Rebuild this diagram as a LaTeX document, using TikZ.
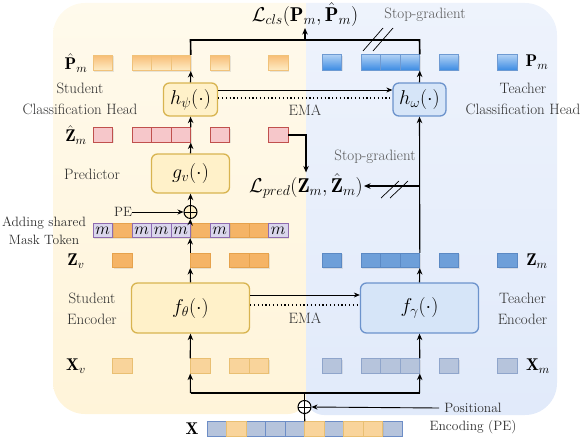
\RequirePackage{fix-cm}
\documentclass[tikz,border=0pt]{standalone}
\usepackage{amsmath}
\usepackage{fontspec}
\usetikzlibrary{arrows.meta,shadows,calc}
\definecolor{ybgT}{HTML}{FFFAEC}
\definecolor{ybgB}{HTML}{FFF4D9}
\definecolor{bbgT}{HTML}{EEF3FC}
\definecolor{bbgB}{HTML}{E1EAFA}
\definecolor{cXv}{HTML}{F9D49B}
\definecolor{cXvB}{HTML}{E9BF72}
\definecolor{cZv}{HTML}{F5B466}
\definecolor{cZvB}{HTML}{E6A24C}
\definecolor{cMk}{HTML}{DAD6EC}
\definecolor{cMkB}{HTML}{8E6BB0}
\definecolor{cZh}{HTML}{F6C7CA}
\definecolor{cZhB}{HTML}{C0504D}
\definecolor{cPhT}{HTML}{F8BE76}
\definecolor{cPhB}{HTML}{FEEDC8}
\definecolor{cPhBd}{HTML}{F0C27A}
\definecolor{cPmT}{HTML}{AFD0F4}
\definecolor{cPmB}{HTML}{3B8BE3}
\definecolor{cPmBd}{HTML}{6E9AD2}
\definecolor{cZm}{HTML}{6E9FD9}
\definecolor{cZmB}{HTML}{5B89C4}
\definecolor{cXm}{HTML}{B6C4DC}
\definecolor{cXmB}{HTML}{8FA5CB}
\definecolor{cXB}{HTML}{6D8DC6}
\definecolor{cSF}{HTML}{FFF1C9}
\definecolor{cSB}{HTML}{D8B450}
\definecolor{cTF}{HTML}{D6E5F8}
\definecolor{cTB}{HTML}{6C93CC}
\definecolor{cTxt}{HTML}{2E2E2E}
\definecolor{cGr}{HTML}{555555}
\tikzset{
  cellbase/.style={draw, minimum width=19.5pt, minimum height=14.5pt, inner sep=0pt, line width=0.6pt,
    drop shadow={shadow xshift=1pt, shadow yshift=-1pt, opacity=0.18}},
  xvcell/.style={cellbase, fill=cXv, draw=cXvB},
  zvcell/.style={cellbase, fill=cZv, draw=cZvB},
  mkcell/.style={cellbase, fill=cMk, draw=cMkB, font=\fontsize{17}{20}\selectfont},
  zhcell/.style={cellbase, fill=cZh, draw=cZhB},
  phcell/.style={cellbase, top color=cPhT, bottom color=cPhB, draw=cPhBd, minimum height=15.5pt},
  pmcell/.style={cellbase, top color=cPmT, bottom color=cPmB, draw=cPmBd, minimum height=15.5pt},
  zmcell/.style={cellbase, fill=cZm, draw=cZmB},
  xmcell/.style={cellbase, fill=cXm, draw=cXmB},
  xbcell/.style={cellbase, fill=cXm, draw=cXB},
  xocell/.style={cellbase, fill=cXv, draw=cXvB},
  sbox/.style={draw=cSB, fill=cSF, rounded corners=6pt, line width=1.3pt, inner sep=0pt, font=\fontsize{20}{24}\selectfont},
  tbox/.style={draw=cTB, fill=cTF, rounded corners=6pt, line width=1.3pt, inner sep=0pt, font=\fontsize{20}{24}\selectfont},
  lbl/.style={font=\fontsize{15}{21}\selectfont, text=cTxt, align=center, inner sep=0pt},
  slbl/.style={font=\fontsize{13.5}{18}\selectfont, text=cTxt, align=center, inner sep=0pt},
  rowlbl/.style={font=\fontsize{17}{20}\selectfont, text=black, inner sep=0pt},
  lossl/.style={font=\fontsize{20}{24}\selectfont, text=black, inner sep=1pt},
  ln/.style={line width=1.1pt},
  thk/.style={line width=1.6pt},
  arr/.style={line width=1.1pt, -{Stealth[length=6.5pt,width=5.5pt]}},
  tarr/.style={line width=0.9pt, -{Stealth[length=6pt,width=5pt]}},
  emadot/.style={line width=1.2pt, dash pattern=on 1.2pt off 2.6pt},
  hatch/.style={line width=0.7pt},
  oplus/.style={circle, draw, line width=1pt, minimum size=13pt, inner sep=0pt,
    path picture={\draw[line width=1pt] (path picture bounding box.north) -- (path picture bounding box.south)
      (path picture bounding box.west) -- (path picture bounding box.east);}}
}
\begin{document}
\begin{tikzpicture}[x=1pt,y=-1pt]
\useasboundingbox (0,0) rectangle (588,444);
% backgrounds (y axis points down: angle 90 = down, 270 = up)
\shade[top color=ybgT, bottom color=ybgB] (306,3) -- (85,3) arc[start angle=270,end angle=180,radius=32] -- (53,382)
  arc[start angle=180,end angle=90,radius=32] -- (288,414) arc[start angle=90,end angle=0,radius=18] -- cycle;
\shade[top color=bbgT, bottom color=bbgB] (306,3) -- (525,3) arc[start angle=-90,end angle=0,radius=32] -- (557,383)
  arc[start angle=0,end angle=90,radius=32] -- (324,415) arc[start angle=90,end angle=180,radius=18] -- cycle;

% ---------- student cells ----------
\foreach \i in {1,5,7,8} {
  \node[xvcell] (xv\i) at (102.75+19.5*\i,366) {};
  \node[zvcell] (zv\i) at (102.75+19.5*\i,260.5) {};
  \node[zvcell] (mk\i) at (102.75+19.5*\i,230.5) {};
}
\foreach \i in {0,2,3,4,6,9} {
  \node[mkcell] (mk\i) at (102.75+19.5*\i,230.5) {$m$};
  \node[zhcell] (zh\i) at (102.75+19.5*\i,135) {};
  \node[phcell] (ph\i) at (102.75+19.5*\i,63) {};
}
% ---------- teacher cells ----------
\foreach \i in {0,2,3,4,6,9} {
  \node[xmcell] (xm\i) at (331.75+19.5*\i,366) {};
  \node[zmcell] (zm\i) at (331.75+19.5*\i,260.5) {};
  \node[pmcell] (pm\i) at (331.75+19.5*\i,62.5) {};
}
% ---------- input X ----------
\foreach \i in {0,2,3,4,6,9} {\node[xbcell] (x\i) at (216.75+19.5*\i,429) {};}
\foreach \i in {1,5,7,8} {\node[xocell] (x\i) at (216.75+19.5*\i,429) {};}

% ---------- row labels ----------
\node[rowlbl] (lph) at (76,63) {$\hat{\mathbf{P}}_m$};
\node[rowlbl] (lzh) at (76,135) {$\hat{\mathbf{Z}}_m$};
\node[rowlbl] (lzv) at (76,261) {$\mathbf{Z}_v$};
\node[rowlbl] (lxv) at (76,366) {$\mathbf{X}_v$};
\node[rowlbl] (lx) at (192,429) {$\mathbf{X}$};
\node[rowlbl] (lpm) at (537,62) {$\mathbf{P}_m$};
\node[rowlbl] (lzm) at (537,261) {$\mathbf{Z}_m$};
\node[rowlbl] (lxm) at (538,366) {$\mathbf{X}_m$};

% ---------- boxes ----------
\node[sbox, minimum width=54pt, minimum height=33pt] (hs) at (190.5,99.5) {$h_\psi(\cdot)$};
\node[tbox, minimum width=53pt, minimum height=33pt] (th) at (419.5,99.5) {$h_\omega(\cdot)$};
\node[sbox, minimum width=78pt, minimum height=39pt] (g) at (190.5,173.5) {$g_v(\cdot)$};
\node[sbox, minimum width=118pt, minimum height=50pt] (sf) at (190.5,308) {$f_\theta(\cdot)$};
\node[tbox, minimum width=118pt, minimum height=50pt] (tf) at (419.5,308) {$f_\gamma(\cdot)$};

% ---------- text labels ----------
\node[lbl] (tsch) at (80,99) {Student\\Classification Head};
\node[lbl] (ttch) at (523,99) {Teacher\\Classification Head};
\node[lbl] (tpred) at (92,174) {Predictor};
\node[lbl] (tse) at (92,308.5) {Student\\Encoder};
\node[lbl] (tte) at (522.5,308.5) {Teacher\\Encoder};
\node[slbl] (tmask) at (44,231) {Adding shared\\Mask Token};
\node[slbl] (tpe) at (123,212) {PE};
\node[slbl] (pos1) at (473,408) {Positional};
\node[slbl] (pos2) at (473,427) {Encoding (PE)};
\node[lbl] (ema1) at (305,318) {EMA};
\node[lbl] (ema2) at (305,110) {EMA};
\node[lbl, text=cGr] (sg1) at (425,15) {Stop-gradient};
\node[lbl, text=cGr] (sg2) at (375,157) {Stop-gradient};

% ---------- losses ----------
\node[lossl, anchor=south] (lcls) at (305,28) {$\mathcal{L}_{cls}(\mathbf{P}_m,\hat{\mathbf{P}}_m)$};
\node[lossl] (lpred) at (306,186) {$\mathcal{L}_{pred}(\mathbf{Z}_m,\hat{\mathbf{Z}}_m)$};

% ---------- oplus ----------
\node[oplus, fill=white] (op1) at (304.5,407) {};
\node[oplus, fill=cSF] (op2) at (190.5,212) {};

% ---------- bottom connectors ----------
\coordinate (bl) at (190.5,393);
\coordinate (br) at (419.5,393);
\coordinate (bm) at (304.5,393);
\draw[ln] (x4.north east) -- (op1.south);
\draw[ln] (op1.north) -- (bm);
\draw[thk] (bl) -- (br);
\draw[arr] (bl) -- (xv5.south west);
\draw[arr] (br) -- (xm4.south east);
\draw[tarr] (pos1.west) ++(-5pt,0) -- (op1.east);

% ---------- student column ----------
\draw[arr] (xv5.north west) -- (sf.south);
\draw[arr] (sf.north) -- (zv5.south west);
\draw[arr] (zv5.north west) -- (mk5.south west);
\draw[arr] (mk5.north west) -- (op2.south);
\draw[tarr] (tpe.east) -- (op2.west);
\draw[arr] (op2.north) -- (g.south);
\draw[arr] (g.north) -- (zh4.south east);
\draw[arr] (zh4.north east) -- (hs.south);
\draw[arr] (hs.north) -- (ph4.south east);

% ---------- teacher column ----------
\draw[arr] (xm4.north east) -- (tf.south);
\draw[arr] (tf.north) -- (zm4.south east);
\draw[arr] (zm4.north east) -- (th.south);
\draw[arr] (th.north) -- (pm4.south east);

% ---------- cls loss ----------
\coordinate (tl) at (190.5,40);
\coordinate (tr) at (419.5,40);
\draw[thk] (ph4.north east) -- (tl) -- (tr) -- (pm4.north east);
\draw[arr] (lcls.south |- tl) -- (lcls.south);
\draw[hatch] (363,51) -- (383,28);
\draw[hatch] (373,51) -- (393,28);

% ---------- pred loss ----------
\coordinate (sgz) at (419.5,186);
\draw[arr] (zh9.east) -| (lpred.north);
\draw[arr, line width=1.4pt] (sgz) -- (lpred.east);
\draw[hatch] (381,198) -- (399,181);
\draw[hatch] (390,198) -- (408,181);

% ---------- EMA ----------
\draw[tarr] ([yshift=13pt]sf.east) -- ([yshift=13pt]tf.west);
\draw[emadot] ([yshift=3pt]sf.east) -- ([yshift=3pt]tf.west);
\draw[tarr] ([yshift=9.5pt]hs.east) -- ([yshift=9.5pt]th.west);
\draw[emadot] ([yshift=1.5pt]hs.east) -- ([yshift=1.5pt]th.west);
\end{tikzpicture}
\end{document}
